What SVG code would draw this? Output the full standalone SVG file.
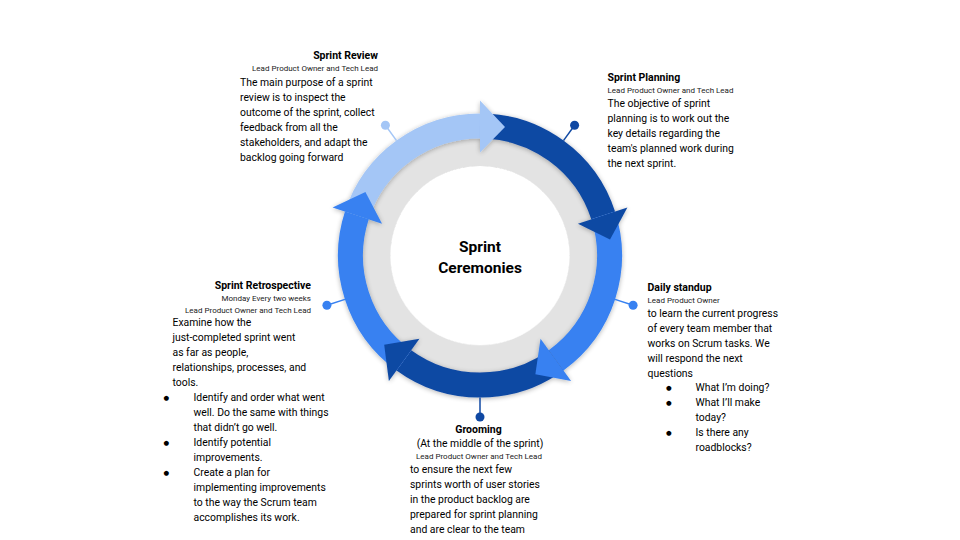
<svg xmlns="http://www.w3.org/2000/svg" width="960" height="540" viewBox="0 0 960 540">
<defs>
<filter id="sh" x="-20%" y="-20%" width="140%" height="140%">
<feGaussianBlur in="SourceAlpha" stdDeviation="2.5"/>
<feOffset dx="0" dy="1" result="b"/>
<feComponentTransfer><feFuncA type="linear" slope="0.3"/></feComponentTransfer>
<feMerge><feMergeNode/><feMergeNode in="SourceGraphic"/></feMerge>
</filter>
</defs>
<style>
text{font-family:Roboto,"Liberation Sans",sans-serif;fill:#000}
.t{font-size:10.5px;font-weight:bold}
.s{font-size:8px;fill:#222}
.b{font-size:10.4px}
.bu{font-size:6.5px;font-family:"DejaVu Sans",sans-serif}
.c{font-size:15.5px;font-weight:bold}
.lb{stroke:#a4c6f6;fill:none;stroke-width:25}
.db{stroke:#0f48a3;fill:none;stroke-width:25}
.mb{stroke:#3781f1;fill:none;stroke-width:25}
</style>
<rect width="960" height="540" fill="#fff"/>
<g id="hub">
<circle cx="480" cy="255.5" r="104" fill="none" stroke="#e3e3e3" stroke-width="28" filter="url(#sh)"/>
<circle cx="480" cy="255.5" r="89.5" fill="#fff"/>
<text class="c" x="480" y="251.5" text-anchor="middle">Sprint</text>
<text class="c" x="480" y="272.5" text-anchor="middle">Ceremonies</text>
</g>
<g id="cycle" filter="url(#sh)">
<path class="lb" d="M356.84 215.48A129.5 129.5 0 0 1 480 126"/>
<path class="db" d="M480 126A129.5 129.5 0 0 1 603.16 215.48"/>
<path class="mb" d="M603.16 215.48A129.5 129.5 0 0 1 556.12 360.27"/>
<path class="db" d="M556.12 360.27A129.5 129.5 0 0 1 403.88 360.27"/>
<path class="mb" d="M403.88 360.27A129.5 129.5 0 0 1 356.84 215.48"/>
<polygon fill="#a4c6f6" points="480,152.5 480,100.5 505,126.9"/>
<polygon fill="#0f48a3" points="577.96,223.67 627.41,207.6 610.02,239.54"/>
<polygon fill="#3781f1" points="540.54,338.83 571.11,380.9 535.36,374.23"/>
<polygon fill="#0f48a3" points="419.46,338.83 388.89,380.9 384.19,344.84"/>
<polygon fill="#3781f1" points="382.04,223.67 332.59,207.6 365.42,191.99"/>
</g>
<g id="connectors" stroke-width="1.5">
<line x1="396.53" y1="140.62" x2="385.4" y2="125.3" stroke="#a4c6f6"/>
<circle cx="385.4" cy="125.3" r="4.5" fill="#a4c6f6"/>
<line x1="563.47" y1="140.62" x2="574.6" y2="125.3" stroke="#0f48a3"/>
<circle cx="574.6" cy="125.3" r="4.5" fill="#0f48a3"/>
<line x1="615.05" y1="299.38" x2="633.1" y2="305.2" stroke="#3781f1"/>
<circle cx="633.1" cy="305.2" r="4.5" fill="#3781f1"/>
<line x1="480" y1="397.5" x2="480" y2="417" stroke="#0f48a3"/>
<circle cx="480" cy="417" r="4.5" fill="#0f48a3"/>
<line x1="344.95" y1="299.38" x2="326.9" y2="305.2" stroke="#3781f1"/>
<circle cx="326.9" cy="305.2" r="4.5" fill="#3781f1"/>
</g>
<g id="review">
<text class="t" x="378" y="59" text-anchor="end">Sprint Review</text>
<text class="s" x="378" y="71" text-anchor="end">Lead Product Owner and Tech Lead</text>
<text class="b" x="240" y="85.5">The main purpose of a sprint</text>
<text class="b" x="240" y="100.5">review is to inspect the</text>
<text class="b" x="240" y="115.5">outcome of the sprint, collect</text>
<text class="b" x="240" y="130.5">feedback from all the</text>
<text class="b" x="240" y="145.5">stakeholders, and adapt the</text>
<text class="b" x="240" y="160.5">backlog going forward</text>
</g>
<g id="planning">
<text class="t" x="607.5" y="81">Sprint Planning</text>
<text class="s" x="607.5" y="93">Lead Product Owner and Tech Lead</text>
<text class="b" x="607.5" y="106.5">The objective of sprint</text>
<text class="b" x="607.5" y="121.5">planning is to work out the</text>
<text class="b" x="607.5" y="136.5">key details regarding the</text>
<text class="b" x="607.5" y="151.5">team's planned work during</text>
<text class="b" x="607.5" y="166.5">the next sprint.</text>
</g>
<g id="standup">
<text class="t" x="647.5" y="290.5">Daily standup</text>
<text class="s" x="647.5" y="302.5">Lead Product Owner</text>
<text class="b" x="647.5" y="316.5">to learn the current progress</text>
<text class="b" x="647.5" y="331.5">of every team member that</text>
<text class="b" x="647.5" y="346.5">works on Scrum tasks. We</text>
<text class="b" x="647.5" y="361.5">will respond the next</text>
<text class="b" x="647.5" y="376.5">questions</text>
<text class="bu" x="666" y="390">●</text>
<text class="b" x="695.5" y="391">What I’m doing?</text>
<text class="bu" x="666" y="405">●</text>
<text class="b" x="695.5" y="406">What I’ll make</text>
<text class="b" x="695.5" y="421">today?</text>
<text class="bu" x="666" y="435">●</text>
<text class="b" x="695.5" y="436">Is there any</text>
<text class="b" x="695.5" y="451">roadblocks?</text>
</g>
<g id="grooming">
<text class="t" x="478.5" y="432.5" text-anchor="middle">Grooming</text>
<text class="b" x="480" y="447" text-anchor="middle">(At the middle of the sprint)</text>
<text class="s" x="479" y="459" text-anchor="middle">Lead Product Owner and Tech Lead</text>
<text class="b" x="410" y="473">to ensure the next few</text>
<text class="b" x="410" y="488">sprints worth of user stories</text>
<text class="b" x="410" y="503">in the product backlog are</text>
<text class="b" x="410" y="518">prepared for sprint planning</text>
<text class="b" x="410" y="533">and are clear to the team</text>
</g>
<g id="retrospective">
<text class="t" x="311" y="288.5" text-anchor="end">Sprint Retrospective</text>
<text class="s" x="311" y="301" text-anchor="end">Monday Every two weeks</text>
<text class="s" x="311" y="312.5" text-anchor="end">Lead Product Owner and Tech Lead</text>
<text class="b" x="172.5" y="326">Examine how the</text>
<text class="b" x="172.5" y="341">just-completed sprint went</text>
<text class="b" x="172.5" y="356">as far as people,</text>
<text class="b" x="172.5" y="371">relationships, processes, and</text>
<text class="b" x="172.5" y="386">tools.</text>
<text class="bu" x="163.5" y="400">●</text>
<text class="b" x="193.5" y="401">Identify and order what went</text>
<text class="b" x="193.5" y="416">well. Do the same with things</text>
<text class="b" x="193.5" y="431">that didn’t go well.</text>
<text class="bu" x="163.5" y="445">●</text>
<text class="b" x="193.5" y="446">Identify potential</text>
<text class="b" x="193.5" y="461">improvements.</text>
<text class="bu" x="163.5" y="475">●</text>
<text class="b" x="193.5" y="476">Create a plan for</text>
<text class="b" x="193.5" y="491">implementing improvements</text>
<text class="b" x="193.5" y="506">to the way the Scrum team</text>
<text class="b" x="193.5" y="521">accomplishes its work.</text>
</g>
</svg>
